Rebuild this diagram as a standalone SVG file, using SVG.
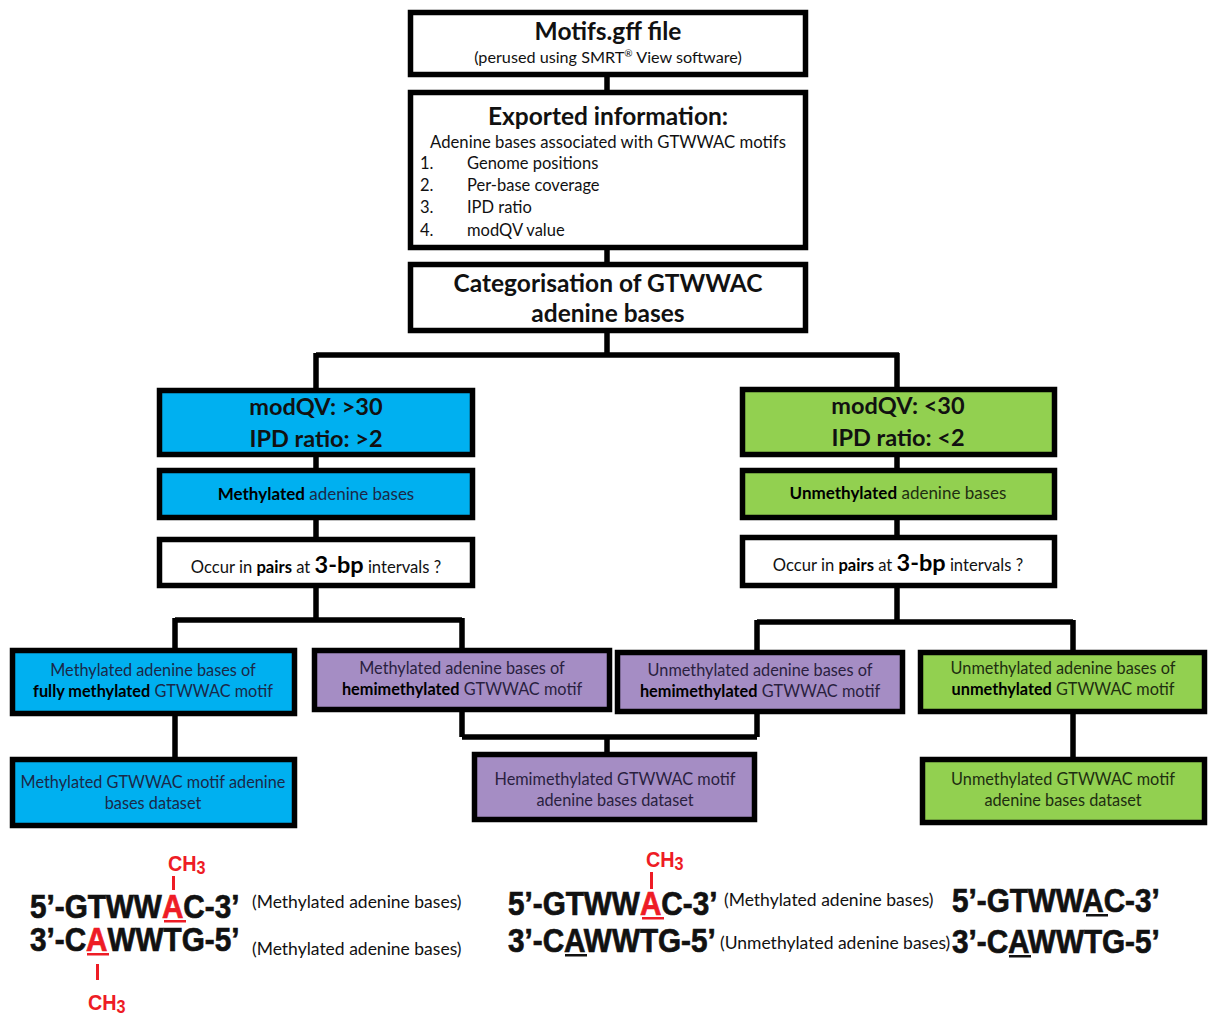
<svg xmlns="http://www.w3.org/2000/svg" width="1218" height="1019" viewBox="0 0 1218 1019">
<style>
.box{stroke:#000;stroke-width:5.5}
.w{fill:#fff}
.b{fill:#00B0F0}
.g{fill:#92D050}
.p{fill:#A58DC4}
.t{font-family:Lato,"Liberation Sans",sans-serif;fill:#111}
.c{text-anchor:middle}
.h{font-size:24.5px;font-weight:bold}
.s{font-size:16.5px}
.m{font-size:16.3px;fill:#1b2848}
.bd{font-weight:bold;fill:#000}
.q{font-size:23.5px;font-weight:bold;fill:#111}
.seq{font-family:"Liberation Sans",Arial,sans-serif;font-weight:bold;font-size:33px;fill:#111;stroke:#111;stroke-width:0.7}
.red{fill:#EE1C25}
.seq .red{stroke:#EE1C25}
.ch{font-family:"Liberation Sans",Arial,sans-serif;font-weight:bold;font-size:22px;fill:#EE1C25}
.lbl{font-family:Lato,"Liberation Sans",sans-serif;font-size:17.5px;fill:#111}
.con{stroke:#000;stroke-width:5.5;fill:none}
</style>
<rect width="1218" height="1019" fill="#fff"/>

<g id="connectors">
<path class="con" d="M607,77V90M607,250V262M607,333V355M316,355H899M316,353V388M897,353V387"/>
<path class="con" d="M316,457V468M316,520V537M316,588V620M175,620H462M175,618V648M462,618V648"/>
<path class="con" d="M897,457V468M897,520V535M897,588V622M757,622H1073M757,620V650M1073,620V650"/>
<path class="con" d="M175,716V757M462,712V737M757,714V737M462,737H757M607,735V752M1073,714V757"/>
</g>

<g id="motifs">
<rect class="box w" x="410.5" y="12.5" width="395" height="62"/>
<text class="t c h" x="608" y="40">Motifs.gff file</text>
<text class="t c" x="608" y="63" style="font-size:16.2px">(perused using SMRT<tspan font-size="10" dy="-6">®</tspan><tspan dy="6"> View software)</tspan></text>
</g>

<g id="exported">
<rect class="box w" x="410.5" y="92.5" width="395" height="155"/>
<text class="t c h" x="608" y="125">Exported information:</text>
<text class="t c s" x="608" y="148" style="font-size:16.7px">Adenine bases associated with GTWWAC motifs</text>
<text class="t s" x="420" y="169">1.</text><text class="t s" x="467" y="169">Genome positions</text>
<text class="t s" x="420" y="191">2.</text><text class="t s" x="467" y="191">Per-base coverage</text>
<text class="t s" x="420" y="213">3.</text><text class="t s" x="467" y="213">IPD ratio</text>
<text class="t s" x="420" y="236">4.</text><text class="t s" x="467" y="236">modQV value</text>
</g>

<g id="categorisation">
<rect class="box w" x="410.5" y="264.5" width="395" height="66"/>
<text class="t c h" x="608" y="292">Categorisation of GTWWAC</text>
<text class="t c h" x="608" y="322">adenine bases</text>
</g>

<g id="modqv-high">
<rect class="box b" x="159.5" y="390.5" width="313" height="64"/>
<text class="t c q" x="316" y="415">modQV: &gt;30</text>
<text class="t c q" x="316" y="447">IPD ratio: &gt;2</text>
</g>
<g id="methylated">
<rect class="box b" x="159.5" y="470.5" width="313" height="47"/>
<text class="t c m" x="316" y="500" style="font-size:17px"><tspan class="bd">Methylated</tspan> adenine bases</text>
</g>
<g id="pairs-left">
<rect class="box w" x="159.5" y="539.5" width="313" height="46"/>
<text class="t c m" x="316" y="573" style="fill:#111;font-size:16.6px">Occur in <tspan class="bd">pairs</tspan> at <tspan class="bd" font-size="23.5">3-bp</tspan> intervals ?</text>
</g>

<g id="modqv-low">
<rect class="box g" x="742.5" y="389.5" width="312" height="65"/>
<text class="t c q" x="898" y="414">modQV: &lt;30</text>
<text class="t c q" x="898" y="446">IPD ratio: &lt;2</text>
</g>
<g id="unmethylated">
<rect class="box g" x="742.5" y="470.5" width="312" height="47"/>
<text class="t c m" x="898" y="499" style="fill:#1e2e10;font-size:17px"><tspan class="bd">Unmethylated</tspan> adenine bases</text>
</g>
<g id="pairs-right">
<rect class="box w" x="742.5" y="537.5" width="312" height="48"/>
<text class="t c m" x="898" y="571" style="fill:#111;font-size:16.6px">Occur in <tspan class="bd">pairs</tspan> at <tspan class="bd" font-size="23.5">3-bp</tspan> intervals ?</text>
</g>

<g id="fully-methylated">
<rect class="box b" x="12.5" y="650.5" width="282" height="63"/>
<text class="t c m" x="153" y="676">Methylated adenine bases of</text>
<text class="t c m" x="153" y="697"><tspan class="bd">fully methylated</tspan> GTWWAC motif</text>
</g>
<g id="hemi-methylated">
<rect class="box p" x="314.5" y="650.5" width="295" height="59"/>
<text class="t c m" x="462" y="674" style="fill:#2a1f3f">Methylated adenine bases of</text>
<text class="t c m" x="462" y="695" style="fill:#2a1f3f"><tspan class="bd">hemimethylated</tspan> GTWWAC motif</text>
</g>
<g id="hemi-unmethylated">
<rect class="box p" x="617.5" y="652.5" width="285" height="59"/>
<text class="t c m" x="760" y="676" style="fill:#2a1f3f">Unmethylated adenine bases of</text>
<text class="t c m" x="760" y="697" style="fill:#2a1f3f"><tspan class="bd">hemimethylated</tspan> GTWWAC motif</text>
</g>
<g id="unmethylated-motif">
<rect class="box g" x="920.5" y="652.5" width="284" height="59"/>
<text class="t c m" x="1063" y="674" style="fill:#1e2e10">Unmethylated adenine bases of</text>
<text class="t c m" x="1063" y="695" style="fill:#1e2e10"><tspan class="bd">unmethylated</tspan> GTWWAC motif</text>
</g>

<g id="methylated-dataset">
<rect class="box b" x="12.5" y="759.5" width="282" height="66"/>
<text class="t c m" x="153" y="788">Methylated GTWWAC motif adenine</text>
<text class="t c m" x="153" y="809">bases dataset</text>
</g>
<g id="hemimethylated-dataset">
<rect class="box p" x="474.5" y="754.5" width="280" height="65"/>
<text class="t c m" x="615" y="785" style="fill:#2a1f3f">Hemimethylated GTWWAC motif</text>
<text class="t c m" x="615" y="806" style="fill:#2a1f3f">adenine bases dataset</text>
</g>
<g id="unmethylated-dataset">
<rect class="box g" x="922.5" y="759.5" width="282" height="63"/>
<text class="t c m" x="1063" y="785" style="fill:#1e2e10">Unmethylated GTWWAC motif</text>
<text class="t c m" x="1063" y="806" style="fill:#1e2e10">adenine bases dataset</text>
</g>

<g id="fully-methylated-example">
<text class="ch" transform="translate(168,871) scale(0.9,1)">CH<tspan font-size="18" dy="3">3</tspan></text>
<rect class="red" x="172" y="876" width="3" height="14"/>
<text class="seq" transform="translate(30,918) scale(0.9,1)">5’-GTWW<tspan class="red">A</tspan>C-3’</text>
<rect class="red" x="164" y="920" width="22" height="2.5"/>
<text class="lbl" x="252" y="908">(Methylated adenine bases)</text>
<text class="seq" transform="translate(30,951) scale(0.9,1)">3’-C<tspan class="red">A</tspan>WWTG-5’</text>
<rect class="red" x="87" y="953" width="22" height="2.5"/>
<text class="lbl" x="252" y="955">(Methylated adenine bases)</text>
<rect class="red" x="96" y="964" width="3" height="16"/>
<text class="ch" transform="translate(88,1010) scale(0.9,1)">CH<tspan font-size="18" dy="3">3</tspan></text>
</g>

<g id="hemimethylated-example">
<text class="ch" transform="translate(646,867) scale(0.9,1)">CH<tspan font-size="18" dy="3">3</tspan></text>
<rect class="red" x="650" y="872" width="3" height="17"/>
<text class="seq" transform="translate(508,915) scale(0.9,1)">5’-GTWW<tspan class="red">A</tspan>C-3’</text>
<rect class="red" x="642" y="917" width="22" height="2.5"/>
<text class="lbl" x="724" y="906">(Methylated adenine bases)</text>
<text class="seq" transform="translate(508,952) scale(0.9,1)">3’-CAWWTG-5’</text>
<rect x="565" y="954" width="22" height="2.5" fill="#111"/>
<text class="lbl" x="720" y="949">(Unmethylated adenine bases)</text>
</g>

<g id="unmethylated-example">
<text class="seq" transform="translate(952,912) scale(0.9,1)">5’-GTWWAC-3’</text>
<rect x="1086" y="914" width="22" height="2.5" fill="#111"/>
<text class="seq" transform="translate(952,953) scale(0.9,1)">3’-CAWWTG-5’</text>
<rect x="1009" y="955" width="22" height="2.5" fill="#111"/>
</g>
</svg>
